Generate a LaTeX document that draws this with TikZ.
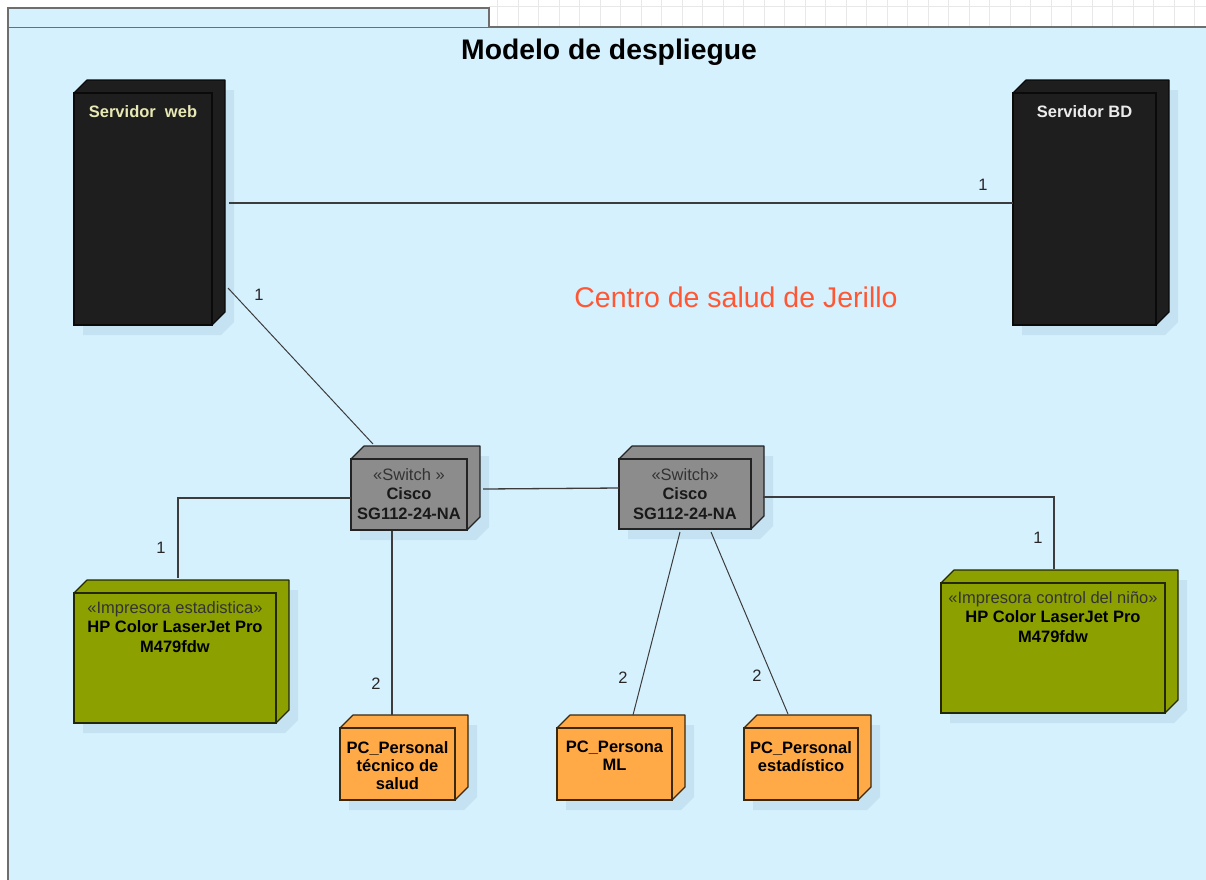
\documentclass[tikz,border=0pt]{standalone}
\usepackage{fontspec}
\setmainfont{Liberation Sans}
\usetikzlibrary{calc}
\definecolor{pkgbg}{RGB}{214,241,254}
\definecolor{pkgline}{RGB}{110,110,110}
\definecolor{gridc}{RGB}{232,232,232}
\definecolor{shadowc}{RGB}{196,226,241}
\definecolor{srvfill}{RGB}{30,30,30}
\definecolor{srvline}{RGB}{10,10,10}
\definecolor{swfill}{RGB}{140,140,140}
\definecolor{swline}{RGB}{35,35,35}
\definecolor{prfill}{RGB}{140,161,0}
\definecolor{prline}{RGB}{35,40,0}
\definecolor{pcfill}{RGB}{255,170,71}
\definecolor{pcline}{RGB}{60,40,10}
\definecolor{conn}{RGB}{60,60,60}
\definecolor{webtxt}{RGB}{232,232,180}
\definecolor{bdtxt}{RGB}{236,236,236}
\definecolor{centro}{RGB}{255,87,51}
\newcommand{\fsn}{\fontsize{16.5}{19.5}\selectfont}
\newcommand{\deplnode}[7]{%
  \fill[shadowc] ({#2+9},{#3+10}) -- ({#2+9+13},{#3+10-13}) -- ({#4+9+13},{#3+10-13}) -- ({#4+9+13},{#5+10-13}) -- ({#4+9},{#5+10}) -- ({#2+9},{#5+10}) -- cycle;
  \filldraw[fill=#6, draw=#7, line width=1.2pt, line join=round] (#2,#3) -- ({#2+13},{#3-13}) -- ({#4+13},{#3-13}) -- ({#4+13},{#5-13}) -- (#4,#5) -- (#4,#3) -- cycle;
  \node[draw=#7, fill=#6, line width=1.7pt, minimum width={#4-#2}, minimum height={#5-#3}, inner sep=0pt, outer sep=0pt, anchor=north west] (#1) at (#2,#3) {};
}
\tikzset{
  conline/.style={draw=conn, line width=1.3pt},
  mult/.style={font=\fsn, text=black!85, inner sep=1pt},
  ntext/.style={font=\fsn, align=center, anchor=north, inner sep=0pt},
}
\begin{document}
\begin{tikzpicture}[x=1pt,y=-1pt]
\useasboundingbox (0,0) rectangle (1206,879);
\fill[white] (0,0) rectangle (1206,879);
% grid in the background
\foreach \gx in {497.5,518,...,1206} \draw[gridc, line width=0.8pt] (\gx,0) -- (\gx,27);
\draw[gridc, line width=0.8pt] (489,6) -- (1206,6);
% package
\fill[pkgbg] (8,27) rectangle (1212,885);
\draw[pkgline, line width=1.5pt] (8,885) -- (8,27) -- (1212,27);
\filldraw[fill=pkgbg, draw=pkgline, line width=1.5pt] (8,27) -- (8,8) -- (489,8) -- (489,27);
\node[font=\fontsize{28.3}{32}\selectfont\bfseries, inner sep=0pt] (title) at (609,52) {Modelo de despliegue};
\node[font=\fontsize{28.5}{32}\selectfont, text=centro, inner sep=0pt] (centro) at (736,297) {Centro de salud de Jerillo};

% nodes
\deplnode{web}{74}{93}{212}{325}{srvfill}{srvline}
\deplnode{bd}{1013}{93}{1156}{325}{srvfill}{srvline}
\deplnode{swa}{351}{459}{467}{530}{swfill}{swline}
\deplnode{swb}{619}{459}{751}{529}{swfill}{swline}
\deplnode{pra}{74}{593}{276}{723}{prfill}{prline}
\deplnode{prb}{941}{583}{1165}{713}{prfill}{prline}
\deplnode{pca}{340}{728}{455}{800}{pcfill}{pcline}
\deplnode{pcb}{557}{728}{672}{800}{pcfill}{pcline}
\deplnode{pcc}{744}{728}{858}{800}{pcfill}{pcline}

% node texts
\node[ntext, text=webtxt, font=\fsn\bfseries] (web-t) at ($(web.north)+(0,12)$) {Servidor\ \ web};
\node[ntext, text=bdtxt, font=\fsn\bfseries] (bd-t) at ($(bd.north)+(0,12)$) {Servidor BD};
\node[ntext, text=black!90] (swa-t) at ($(swa.north)+(0,9)$) {{\color{black!80}«Switch »}\\\textbf{Cisco}\\\textbf{SG112-24-NA}};
\node[ntext, text=black!90] (swb-t) at ($(swb.north)+(0,9)$) {{\color{black!80}«Switch»}\\\textbf{Cisco}\\\textbf{SG112-24-NA}};
\node[ntext, text=black] (pra-t) at ($(pra.north)+(0,8)$) {{\color{black!80}«Impresora estadistica»}\\\textbf{HP Color LaserJet Pro}\\\textbf{M479fdw}};
\node[ntext, text=black] (prb-t) at ($(prb.north)+(0,8)$) {{\color{black!80}«Impresora control del niño»}\\\textbf{HP Color LaserJet Pro}\\\textbf{M479fdw}};
\node[ntext, font=\fontsize{16.5}{18}\selectfont\bfseries] (pca-t) at ($(pca.north)+(0,13)$) {PC\_Personal\\técnico de\\salud};
\node[ntext, font=\fontsize{16.5}{18}\selectfont\bfseries] (pcb-t) at ($(pcb.north)+(0,13)$) {PC\_Persona\\ML};
\node[ntext, font=\fontsize{16.5}{18}\selectfont\bfseries] (pcc-t) at ($(pcc.north)+(0,13)$) {PC\_Personal\\estadístico};

% connectors
\draw[conline] ($(web.east)+(17,-6)$) -- ($(bd.west)+(0,-6)$);
\draw[conline, line width=1pt] ($(web.east)+(16,79)$) -- ($(swa.north west)+(22,-15)$);
\draw[conline] ($(swa.east)+(16,-5.5)$) -- ($(swb.west)+(0,-6)$);
\draw[conline] ($(swa.west)+(0,3.5)$) -| ($(pra.north)+(3,-15)$);
\draw[conline] ($(swa.south)+(-17,1)$) -- ($(pca.north)+(-5.5,-13)$);
\draw[conline, line width=1pt] ($(swb.south)+(-5,3)$) -- ($(pcb.north)+(18.5,-13)$);
\draw[conline, line width=1pt] ($(swb.south)+(26,3)$) -- ($(pcc.north)+(-13,-14)$);
\draw[conline] ($(swb.east)+(12,3)$) -| ($(prb.north)+(1,-14)$);

% multiplicities
\node[mult] (m1) at (983,185) {1};
\node[mult] (m2) at (259,295) {1};
\node[mult] (m3) at (161,548) {1};
\node[mult] (m4) at (376,684) {2};
\node[mult] (m5) at (623,678) {2};
\node[mult] (m6) at (757,676) {2};
\node[mult] (m7) at (1038,538) {1};
\end{tikzpicture}
\end{document}
